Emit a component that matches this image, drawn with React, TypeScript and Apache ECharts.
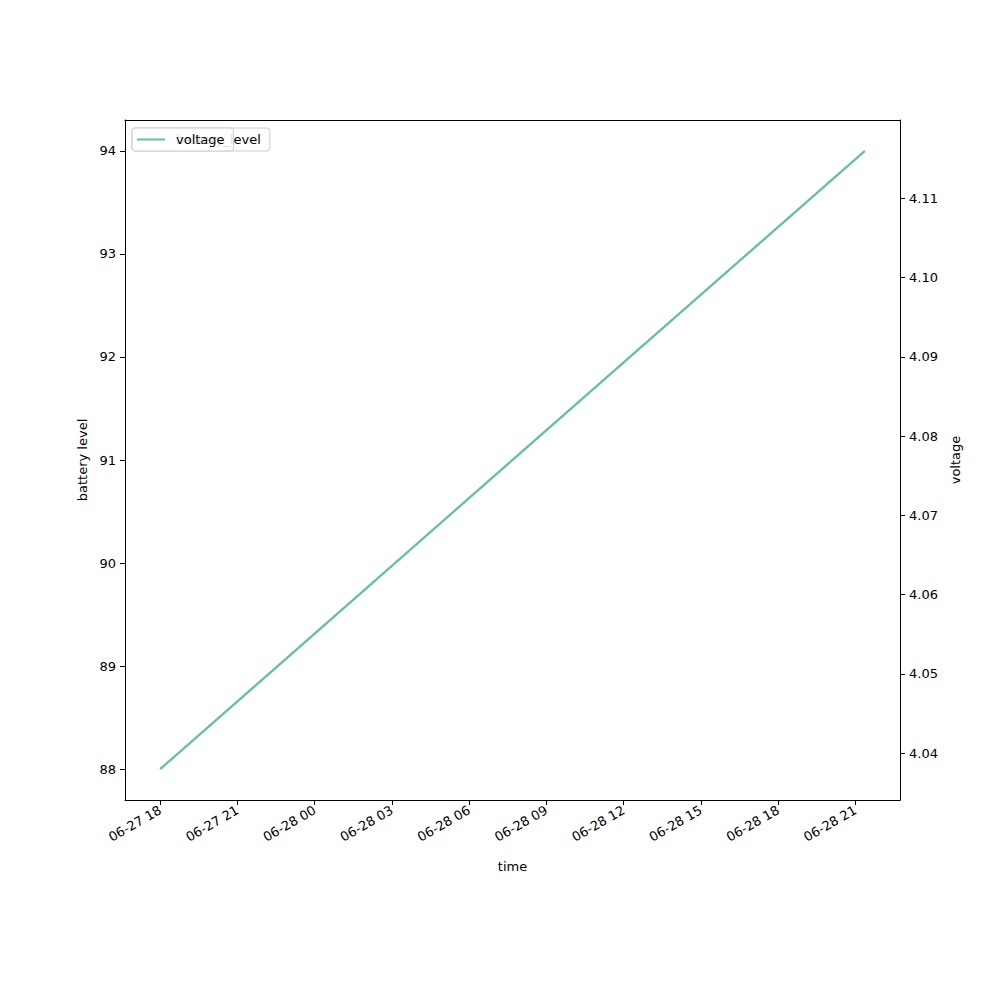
import React, { useEffect, useRef } from "react";
import * as echarts from "echarts";

const times = ["2023-06-27T18:00:00Z", "2023-06-28T21:22:00Z"];
const batteryLevel = [88, 94];
const voltage = [4.038, 4.116];
const xTickLabels = [
  "2023-06-27T18:00:00Z",
  "2023-06-27T21:00:00Z",
  "2023-06-28T00:00:00Z",
  "2023-06-28T03:00:00Z",
  "2023-06-28T06:00:00Z",
  "2023-06-28T09:00:00Z",
  "2023-06-28T12:00:00Z",
  "2023-06-28T15:00:00Z",
  "2023-06-28T18:00:00Z",
  "2023-06-28T21:00:00Z",
];
const leftTicks = [88, 89, 90, 91, 92, 93, 94];
const rightTicks = [4.04, 4.05, 4.06, 4.07, 4.08, 4.09, 4.1, 4.11];

const COLOR = "#66c2a5";
const FONT = "DejaVu Sans";

function pad(n: number) {
  return n < 10 ? "0" + n : "" + n;
}
function fmtTime(v: number) {
  const d = new Date(v);
  return pad(d.getUTCMonth() + 1) + "-" + pad(d.getUTCDate()) + " " + pad(d.getUTCHours());
}

export default function App() {
  const ref = useRef<HTMLDivElement>(null);
  useEffect(() => {
    if (!ref.current) return;
    const chart = echarts.init(ref.current, undefined, { renderer: "svg" });
    const t = times.map((s) => Date.parse(s));
    const tMin = t[0], tMax = t[t.length - 1];
    const tr = tMax - tMin;
    const bMin = Math.min(...batteryLevel), bMax = Math.max(...batteryLevel);
    const vMin = Math.min(...voltage), vMax = Math.max(...voltage);
    const bR = bMax - bMin, vR = vMax - vMin;

    const axisCommon = {
      axisLine: { show: true, lineStyle: { color: "#000", width: 1 } },
      axisTick: { show: true, inside: false, length: 5, lineStyle: { color: "#000" } },
      splitLine: { show: false },
    };
    const labelStyle = { color: "#000", fontFamily: FONT, fontSize: 13 };
    const legendCommon = {
      left: 132,
      top: 128,
      orient: "vertical",
      icon: "rect",
      itemWidth: 28,
      itemHeight: 2,
      padding: [5, 9, 5, 5],
      backgroundColor: "rgba(255,255,255,0.85)",
      borderColor: "#cccccc",
      borderWidth: 1,
      borderRadius: 3,
      textStyle: { color: "#000", fontFamily: FONT, fontSize: 13, padding: [0, 0, 0, 6] },
    };

    chart.setOption({
      animation: false,
      backgroundColor: "#fff",
      textStyle: { fontFamily: FONT },
      grid: { left: 125, right: 100, top: 120, bottom: 200, containLabel: false },
      legend: [
        { ...legendCommon, data: ["battery_level"], z: 4 },
        { ...legendCommon, data: ["voltage"], z: 6 },
      ],
      xAxis: [
        {
          type: "value",
          min: tMin - 0.05 * tr,
          max: tMax + 0.05 * tr,
          name: "time",
          nameLocation: "middle",
          nameGap: 60,
          nameTextStyle: labelStyle,
          ...axisCommon,
          axisTick: { ...axisCommon.axisTick, customValues: xTickLabels.map((s) => Date.parse(s)) },
          axisLabel: {
            ...labelStyle,
            rotate: 30,
            margin: 9,
            customValues: xTickLabels.map((s) => Date.parse(s)),
            formatter: (v: number) => fmtTime(v),
          },
        },
        {
          type: "value",
          position: "top",
          min: tMin - 0.05 * tr,
          max: tMax + 0.05 * tr,
          axisLine: { show: true, lineStyle: { color: "#000", width: 1 } },
          axisTick: { show: false },
          axisLabel: { show: false },
          splitLine: { show: false },
        },
      ],
      yAxis: [
        {
          type: "value",
          position: "left",
          min: bMin - 0.05 * bR,
          max: bMax + 0.05 * bR,
          name: "battery level",
          nameLocation: "middle",
          nameGap: 36,
          nameTextStyle: labelStyle,
          ...axisCommon,
          axisTick: { ...axisCommon.axisTick, customValues: leftTicks },
          axisLabel: { ...labelStyle, margin: 9, customValues: leftTicks, formatter: (v: number) => String(Math.round(v)) },
        },
        {
          type: "value",
          position: "right",
          min: vMin - 0.05 * vR,
          max: vMax + 0.05 * vR,
          name: "voltage",
          nameLocation: "middle",
          nameGap: 48,
          nameTextStyle: labelStyle,
          ...axisCommon,
          axisTick: { ...axisCommon.axisTick, customValues: rightTicks },
          axisLabel: { ...labelStyle, margin: 9, customValues: rightTicks, formatter: (v: number) => v.toFixed(2) },
        },
      ],
      series: [
        {
          name: "battery_level",
          type: "line",
          xAxisIndex: 0,
          yAxisIndex: 0,
          symbol: "none",
          color: COLOR,
          lineStyle: { color: COLOR, width: 2 },
          data: t.map((x, i) => [x, batteryLevel[i]]),
        },
        {
          name: "voltage",
          type: "line",
          xAxisIndex: 0,
          yAxisIndex: 1,
          symbol: "none",
          color: COLOR,
          lineStyle: { color: COLOR, width: 2 },
          data: t.map((x, i) => [x, voltage[i]]),
        },
      ],
    });
    return () => chart.dispose();
  }, []);
  return (
    <div
      ref={ref}
      style={{ position: "fixed", left: 0, top: 0, width: 1000, height: 1000 }}
    />
  );
}
